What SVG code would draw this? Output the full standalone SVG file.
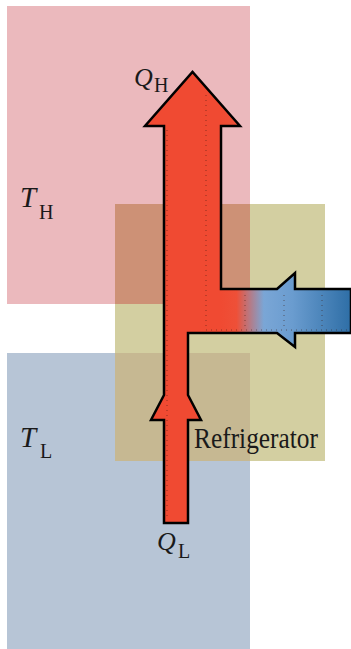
<svg xmlns="http://www.w3.org/2000/svg" width="351" height="649" viewBox="0 0 351 649">
<defs>
<style>
.lbl{font-family:"Liberation Serif","Times New Roman",serif;fill:#1a1a1a}
.it{font-style:italic;font-size:26px}
.itT{font-style:italic;font-size:29px}
.sub{font-size:20px}
.dots{stroke:#3a1a10;stroke-width:1;stroke-dasharray:1 4;opacity:0.55;fill:none}
</style>
<linearGradient id="flow" gradientUnits="userSpaceOnUse" x1="221" y1="0" x2="351" y2="0">
<stop offset="0" stop-color="#f04a32"/>
<stop offset="0.12" stop-color="#ee5038"/>
<stop offset="0.33" stop-color="#7aa6d6"/>
<stop offset="0.55" stop-color="#6a9ccf"/>
<stop offset="1" stop-color="#2e6ea6"/>
</linearGradient>
</defs>
<g id="hot-reservoir">
<rect x="7" y="6" width="243" height="298" fill="#ebb9bd"/>
<text class="lbl"><tspan class="itT" x="20" y="207">T</tspan><tspan class="sub" x="39" y="219">H</tspan></text>
</g>
<g id="cold-reservoir">
<rect x="7" y="353" width="243" height="296" fill="#b7c5d6"/>
<text class="lbl"><tspan class="itT" x="20" y="447">T</tspan><tspan class="sub" x="40" y="458">L</tspan></text>
</g>
<g id="refrigerator">
<rect x="115" y="204" width="210" height="257" fill="#d3cfa1"/>
<rect x="115" y="204" width="135" height="100" fill="#cd9176"/>
<rect x="115" y="353" width="135" height="108" fill="#c6b892"/>
<text class="lbl" x="194" y="448" font-size="29" textLength="124" lengthAdjust="spacingAndGlyphs">Refrigerator</text>
</g>
<g id="connectors">
<path d="M164,523 L164,420 L151,420 L164,395 L164,126 L145,126 L192.5,72 L240,126 L221,126 L221,289 L277,289 L295,273 L295,289 L351,289 L351,333 L295,333 L295,347 L277,333 L188,333 L188,395 L201,420 L188,420 L188,523 Z" fill="url(#flow)" stroke="#000" stroke-width="2.5" stroke-linejoin="miter"/>
<path class="dots" d="M167,130 V520 M206,95 V330 M206,330 H350 M245,295 V330 M284,295 V330 M322,295 V330"/>
<text class="lbl"><tspan class="it" x="134" y="86">Q</tspan><tspan class="sub" x="154" y="92">H</tspan></text>
<text class="lbl"><tspan class="it" x="157" y="550">Q</tspan><tspan class="sub" x="178" y="558">L</tspan></text>
</g>
</svg>
